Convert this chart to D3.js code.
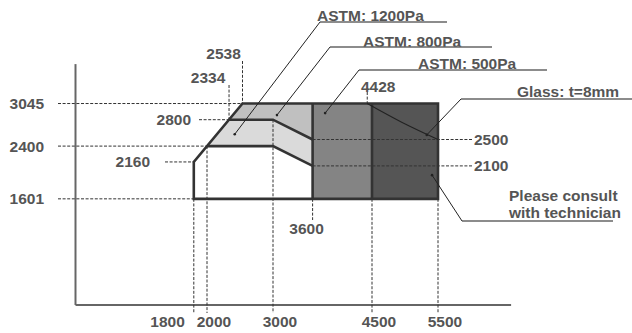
<!DOCTYPE html>
<html>
<head>
<meta charset="utf-8">
<script src="https://cdn.jsdelivr.net/npm/d3@7"></script>
<style>
  html, body { margin: 0; padding: 0; background: #fff; }
  svg { display: block; }
  text { font-family: "Liberation Sans", Arial, Helvetica, sans-serif; font-weight: bold; fill: #555; }
</style>
</head>
<body>
<svg id="chart" width="632" height="333"></svg>
<script>
// ---- data ----
const xTicks = [1800, 2000, 3000, 4500, 5500];
const yTicks = [1601, 2400, 3045];

const whiteZone   = [[1800,1601],[1800,2160],[2000,2400],[3000,2400],[3600,2100],[3600,1601]];
const zone1200    = [[2000,2400],[2334,2800],[3000,2800],[3600,2500],[3600,2100],[3000,2400]];
const zone800     = [[2334,2800],[2538,3045],[3600,3045],[3600,2500],[3000,2800]];
const zone500     = [[3600,1601],[3600,3045],[4500,3045],[4500,1601]];
const zoneGlass   = [[4500,1601],[4500,3045],[5500,3045],[5500,1601]];
const glassCurve  = [[4428,3045],[4950,2762],[5500,2500]];

const zoneNames   = ["white", "1200", "800", "500", "glass"];
const zoneFills   = ["#ffffff", "#dadada", "#c0c0c0", "#848484", "#555555"];

const annotations = [
  { lines: ["ASTM: 1200Pa"], target: [2420, 2580] },
  { lines: ["ASTM: 800Pa"], target: [3060, 2870] },
  { lines: ["ASTM: 500Pa"], target: [3790, 2900] },
  { lines: ["Glass: t=8mm"], target: [5330, 2570] },
  { lines: ["Please consult", "with technician"], target: [5410, 1960] }
];

// ---- scales ----
const svg = d3.select("#chart");
const x = d3.scaleLinear().domain([0, 6600]).range([75, 510.6]);
const y = d3.scaleLinear().domain([0, 3650]).range([304.5, 63.6]);
const line = d3.line().x(d => x(d[0])).y(d => y(d[1]));

// ---- axes ----
const xAxis = d3.axisBottom(x).tickValues([]).tickSizeOuter(0);
const yAxis = d3.axisLeft(y).tickValues([]).tickSizeOuter(0);
svg.append("g").attr("transform", `translate(0,${y(0)})`).call(xAxis)
  .select(".domain").attr("stroke", "#666").attr("stroke-width", 2);
svg.append("g").attr("transform", `translate(${x(0)},0)`).call(yAxis)
  .select(".domain").attr("stroke", "#666").attr("stroke-width", 2);

// ---- zones (fills) ----
const zones = [whiteZone, zone1200, zone800, zone500, zoneGlass];
svg.append("g").selectAll("path").data(zones).join("path")
  .attr("d", d => line(d) + "Z")
  .attr("fill", (d, i) => zoneFills[i])
  .attr("stroke", "none");

// ---- dashed guides ----
const dash = svg.append("g").attr("stroke", "#333").attr("stroke-width", 1)
  .attr("stroke-dasharray", "3,1.6").attr("fill", "none");
function hGuide(v, px1, px2) { dash.append("line").attr("x1", px1).attr("x2", px2).attr("y1", y(v)).attr("y2", y(v)); }
function vGuide(v, py1, py2) { dash.append("line").attr("x1", x(v)).attr("x2", x(v)).attr("y1", py1).attr("y2", py2); }

hGuide(3045, 58, x(2538));
hGuide(2400, 58, x(2000));
hGuide(1601, 58, x(1800));
hGuide(2800, 199, x(2334));
hGuide(2160, 165, x(1800));
hGuide(2500, x(3600), 473);
hGuide(2100, x(3600), 473);

vGuide(2538, 61, y(3045));
vGuide(2334, 85, y(2800));
vGuide(4428, 92, y(3045));
vGuide(1800, y(1601), 313);
vGuide(2000, y(2400), 313);
vGuide(3000, y(2800), 313);
vGuide(4500, y(1601), 313);
vGuide(5500, y(1601), 313);
vGuide(3600, y(1601), 220);

// ---- outlines ----
const outl = svg.append("g").attr("stroke", "#333").attr("stroke-width", 2.6)
  .attr("fill", "none").attr("stroke-linejoin", "miter");
outl.append("path").attr("d", line([[1800,1601],[1800,2160],[2538,3045],[5500,3045],[5500,1601]]) + "Z");
outl.append("path").attr("d", line([[2000,2400],[3000,2400],[3600,2100]]));
outl.append("path").attr("d", line([[2334,2800],[3000,2800],[3600,2500]]));
outl.append("path").attr("d", line([[3600,1601],[3600,3045]]));
outl.append("path").attr("d", line([[4500,1601],[4500,3045]]));

// glass limit curve
svg.append("path").attr("d", d3.line().x(d => x(d[0])).y(d => y(d[1])).curve(d3.curveNatural)(glassCurve))
  .attr("fill", "none").attr("stroke", "#222").attr("stroke-width", 1.1);

// ---- value labels ----
const fs = "15.5px";
function label(txt, px, py, anchor) {
  svg.append("text").attr("x", px).attr("y", py).attr("text-anchor", anchor || "middle")
    .attr("dominant-baseline", "central").style("font-size", fs).text(txt);
}
yTicks.forEach(v => label(v, 44, y(v), "end"));
label(2800, 191, y(2800), "end");
label(2160, 150, y(2160), "end");
label(2538, x(2538) - 19, 53);
label(2334, x(2334) - 21, 77);
label(4428, x(4428) + 11, 86);
label(2500, 474, y(2500), "start");
label(2100, 474, y(2100), "start");
label(3600, x(3600) - 6, 228);
xTicks.forEach(v => {
  if (v === 1800) label(v, x(v) - 9, 321, "end");
  else label(v, x(v) + 7, 321);
});

// ---- annotations ----
const annoLayout = [
  { tx: 317, ty: 15, u1: 320, u2: 447, uy: 22 },
  { tx: 363, ty: 41, u1: 330, u2: 492, uy: 47 },
  { tx: 418, ty: 63, u1: 359, u2: 547, uy: 70 },
  { tx: 517, ty: 91, u1: 461, u2: 632, uy: 99 },
  { tx: 509, ty: 195, u1: 462, u2: 613, uy: 221 }
];
annotations.forEach((a, i) => {
  const L = annoLayout[i];
  a.lines.forEach((t, j) => {
    svg.append("text").attr("x", L.tx).attr("y", L.ty + j * 17)
      .attr("dominant-baseline", "central").style("font-size", fs).text(t);
  });
  svg.append("line").attr("x1", L.u1).attr("x2", L.u2).attr("y1", L.uy).attr("y2", L.uy)
    .attr("stroke", "#666").attr("stroke-width", 1.4);
  svg.append("line").attr("x1", L.u1).attr("y1", L.uy)
    .attr("x2", x(a.target[0])).attr("y2", y(a.target[1]))
    .attr("stroke", "#222").attr("stroke-width", 1);
  svg.append("circle").attr("cx", x(a.target[0])).attr("cy", y(a.target[1])).attr("r", 1.3).attr("fill", "#222");
});
</script>
</body>
</html>
